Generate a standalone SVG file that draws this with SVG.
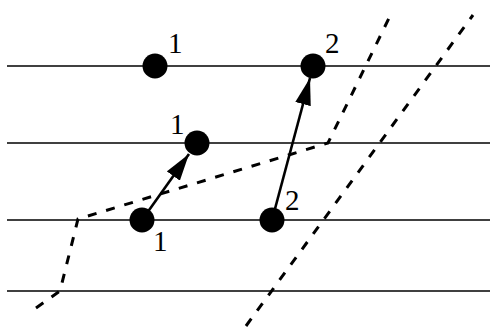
<svg xmlns="http://www.w3.org/2000/svg" width="490" height="328" viewBox="0 0 490 328">
<style>
.h{stroke:#000;stroke-width:1.6;fill:none}
.d{stroke:#000;stroke-width:3;fill:none;stroke-dasharray:9 10}
.a{stroke:#000;stroke-width:2.6;fill:none}
.dot{fill:#000}
.t{font-family:"Liberation Serif",serif;font-size:29px;fill:#000}
</style>
<defs>
<marker id="ah2" viewBox="0 0 27 16" refX="27" refY="8" markerWidth="27" markerHeight="16" markerUnits="userSpaceOnUse" orient="auto">
<path d="M0,0 L27,8 L0,16 Z" fill="#000"/>
</marker>
</defs>
<g id="lines">
<line class="h" x1="7" y1="66" x2="490" y2="66"/>
<line class="h" x1="7" y1="143" x2="490" y2="143"/>
<line class="h" x1="7" y1="220" x2="490" y2="220"/>
<line class="h" x1="7" y1="291" x2="490" y2="291"/>
</g>
<g id="connectors">
<polyline class="d" points="36,308 60,291 78,219 328,143 392,12"/>
<line class="d" x1="246" y1="326" x2="473" y2="15"/>
<line class="a" x1="142" y1="220" x2="189" y2="154" marker-end="url(#ah2)"/>
<line class="a" x1="272" y1="220" x2="310" y2="78" marker-end="url(#ah2)"/>
</g>
<g id="n1"><circle class="dot" cx="155" cy="66" r="12.5"/><text class="t" x="168" y="53">1</text></g>
<g id="n2"><circle class="dot" cx="313" cy="66" r="12.5"/><text class="t" x="325" y="53">2</text></g>
<g id="n3"><circle class="dot" cx="197" cy="143" r="12.5"/><text class="t" x="170" y="134">1</text></g>
<g id="n4"><circle class="dot" cx="142" cy="220" r="12.5"/><text class="t" x="153" y="251">1</text></g>
<g id="n5"><circle class="dot" cx="272" cy="220" r="12.5"/><text class="t" x="285" y="210">2</text></g>
</svg>
